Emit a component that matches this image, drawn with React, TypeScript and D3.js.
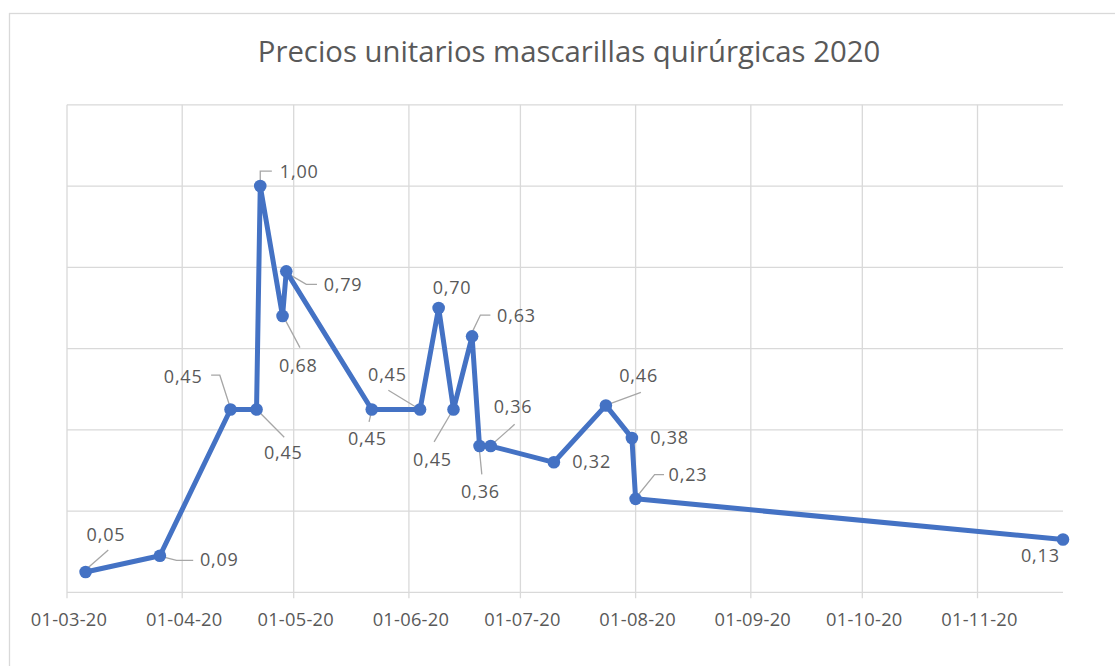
import React from 'react';
import * as d3 from 'd3';

const title = 'Precios unitarios mascarillas quirúrgicas 2020';
const dates = [
  '2020-03-06', '2020-03-26', '2020-04-14', '2020-04-21', '2020-04-22',
  '2020-04-28', '2020-04-29', '2020-05-22', '2020-06-04', '2020-06-09',
  '2020-06-13', '2020-06-18', '2020-06-20', '2020-06-23', '2020-07-10',
  '2020-07-24', '2020-07-31', '2020-08-01', '2020-11-24',
];
const prices = [
  0.05, 0.09, 0.45, 0.45, 1.0,
  0.68, 0.79, 0.45, 0.45, 0.70,
  0.45, 0.63, 0.36, 0.36, 0.32,
  0.46, 0.38, 0.23, 0.13,
];
const tickDates = [
  '2020-03-01', '2020-04-01', '2020-05-01', '2020-06-01', '2020-07-01',
  '2020-08-01', '2020-09-01', '2020-10-01', '2020-11-01',
];
const yGrid = [0, 0.2, 0.4, 0.6, 0.8, 1.0, 1.2];
const xDomainStart = '2020-03-01';
const xDomainEnd = '2020-11-24';

// label placement (text offset from point, leader polyline offsets)
const labelLayout: { dx: number; dy: number; leader?: [number, number][] }[] = [
  { dx: 2, dy: -31, leader: [[1, -3], [22.7, -22]] },
  { dx: 41, dy: 10.7, leader: [[4, 1.3], [16.6, 4.7], [33.3, 4.7]] },
  { dx: -65.7, dy: -26, leader: [[-0.7, -3.3], [-10.7, -34.3], [-19.4, -34.3]] },
  { dx: 8.4, dy: 50, leader: [[3.4, 3.3], [27.7, 27.7]] },
  { dx: 20.6, dy: -8.4, leader: [[0, -3], [0, -15], [11.6, -15]] },
  { dx: -2.6, dy: 55.6, leader: [[2.4, 3.3], [17.4, 31.6]] },
  { dx: 38.4, dy: 20, leader: [[1.7, 2.3], [20, 13], [30.7, 13]] },
  { dx: -22.7, dy: 35.7, leader: [[-0.5, 3], [-2.7, 12.4]] },
  { dx: -51, dy: -28.3, leader: [[-3.4, -2], [-31.7, -19.3]] },
  { dx: -5, dy: -13.6 },
  { dx: -39.4, dy: 56.4, leader: [[-2.7, 4], [-19.4, 32.4]] },
  { dx: 26, dy: -14, leader: [[0, -4], [8.3, -21.3], [18.3, -21.3]] },
  { dx: -17.4, dy: 51.6, leader: [[0, 5], [2.3, 28.3]] },
  { dx: 4, dy: -32.7, leader: [[0.7, -1], [24, -21.7]] },
  { dx: 19.4, dy: 6 },
  { dx: 14.4, dy: -23, leader: [[1.7, -0.7], [35, -13]] },
  { dx: 19.3, dy: 6 },
  { dx: 34, dy: -18.3, leader: [[0.7, -1.6], [19, -24.3], [28.4, -24.3]] },
  { dx: -41, dy: 22.3 },
];

const W = 1115;
const H = 666;
const plot = { left: 67, right: 1063, top: 104.8, bottom: 592.3 };
const FONT = '"Open Sans", "Noto Sans", sans-serif';
const TEXT = '#595959';
const GRID = '#d9d9d9';
const LINE = '#4472c4';

export default function App() {
  const parse = d3.timeParse('%Y-%m-%d');
  const fmt = d3.timeFormat('%d-%m-%y');
  const x = d3
    .scaleTime()
    .domain([parse(xDomainStart)!, parse(xDomainEnd)!])
    .range([plot.left, plot.right]);
  const y = d3.scaleLinear().domain([0, 1.2]).range([plot.bottom, plot.top]);

  const pts = dates.map((d, i) => ({ x: x(parse(d)!), y: y(prices[i]), v: prices[i] }));
  const line = d3
    .line<{ x: number; y: number }>()
    .x((d) => d.x)
    .y((d) => d.y);
  const fmtVal = (v: number) => v.toFixed(2).replace('.', ',');

  return (
    <svg
      width={W}
      height={H}
      style={{ position: 'absolute', left: 0, top: 0, background: '#fff' }}
    >
      <rect x={0} y={0} width={W} height={H} fill="#fff" />
      <rect x={9.5} y={13.5} width={1130} height={700} fill="#fff" stroke={GRID} strokeWidth={1.3} />
      <text
        x={569}
        y={62}
        textAnchor="middle"
        fontFamily={FONT}
        fontSize={29.3}
        fill={TEXT}
      >
        {title}
      </text>
      {/* horizontal gridlines */}
      {yGrid.map((v) => (
        <line
          key={'h' + v}
          x1={plot.left}
          x2={plot.right}
          y1={y(v)}
          y2={y(v)}
          stroke={GRID}
          strokeWidth={1.3}
        />
      ))}
      {/* vertical gridlines & ticks */}
      {tickDates.map((t) => {
        const xx = x(parse(t)!);
        return (
          <g key={'v' + t}>
            <line x1={xx} x2={xx} y1={plot.top} y2={plot.bottom + 6} stroke={GRID} strokeWidth={1.3} />
            <text
              x={xx + 2}
              y={626}
              textAnchor="middle"
              fontFamily={FONT}
              fontSize={18.3}
              letterSpacing={0.25}
              fill={TEXT}
            >
              {fmt(parse(t)!)}
            </text>
          </g>
        );
      })}
      {/* leader lines */}
      {pts.map((p, i) => {
        const L = labelLayout[i].leader;
        if (!L) return null;
        return (
          <polyline
            key={'l' + i}
            points={L.map(([dx, dy]) => `${p.x + dx},${p.y + dy}`).join(' ')}
            fill="none"
            stroke="#a6a6a6"
            strokeWidth={1.3}
          />
        );
      })}
      <path d={line(pts) || ''} fill="none" stroke={LINE} strokeWidth={5} strokeLinejoin="round" />
      {pts.map((p, i) => (
        <circle key={'c' + i} cx={p.x} cy={p.y} r={6.3} fill={LINE} />
      ))}
      {pts.map((p, i) => (
        <text
          key={'t' + i}
          x={p.x + labelLayout[i].dx - 1}
          y={p.y + labelLayout[i].dy}
          fontFamily={FONT}
          fontSize={18}
          letterSpacing={0.8}
          fill={TEXT}
        >
          {fmtVal(p.v)}
        </text>
      ))}
    </svg>
  );
}
